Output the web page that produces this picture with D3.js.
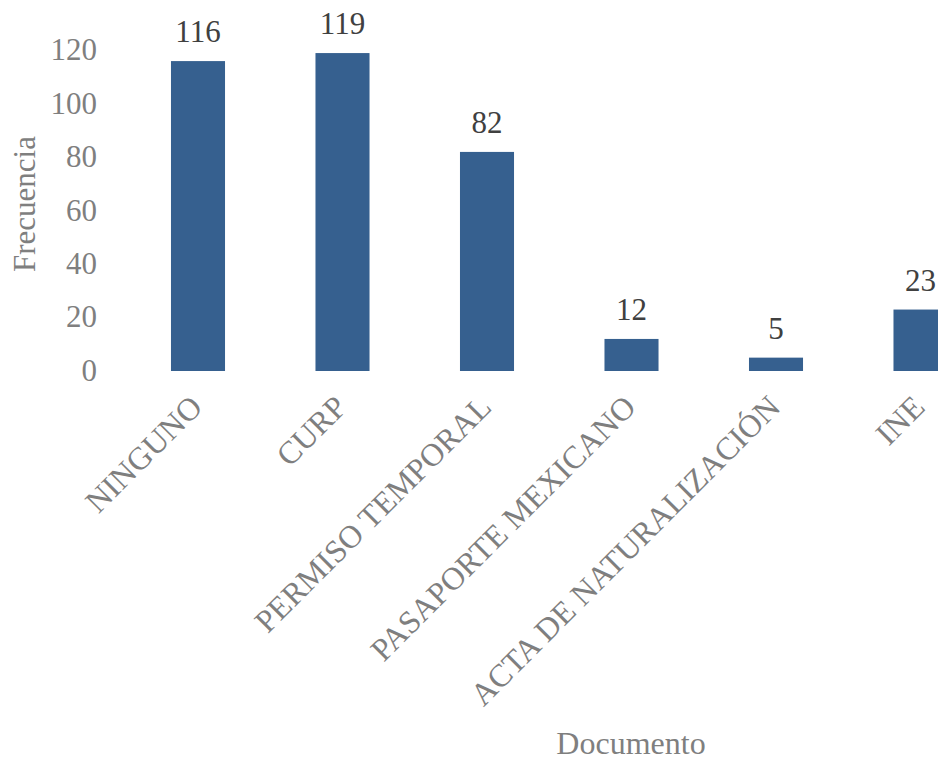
<!doctype html>
<html lang="es">
  <head>
    <meta charset="utf-8">
    <title>Documento</title>
    <style>
      body{margin:0;background:#fff;}
      svg{display:block;overflow:hidden;}
      text{font-family:"Liberation Serif","Times New Roman",serif;}
    </style>
  </head>
  <body>
    <div class="holder"></div>
    <script src="https://cdn.jsdelivr.net/npm/d3@7"></script>
    <script>
      // data
      var categories = ["NINGUNO", "CURP", "PERMISO TEMPORAL", "PASAPORTE MEXICANO", "ACTA DE NATURALIZACIÓN", "INE"];
      var values = [116, 119, 82, 12, 5, 23];
      var yTicks = [0, 20, 40, 60, 80, 100, 120];

      var width = 938, height = 761;

      var svg = d3.select(".holder")
          .append("svg")
          .attr("width", width)
          .attr("height", height);

      // the plot runs past the right edge, as in the original
      var x = d3.scaleBand()
          .domain(categories)
          .range([125.75, 992.75])
          .paddingInner(0.626)
          .paddingOuter(0.313);

      var y = d3.scaleLinear()
          .domain([0, 120])
          .range([371, 50.4]);

      var bars = categories.map(function(c, i){ return {cat: c, value: values[i]}; });

      // y axis, labels only
      var yAxis = svg.append("g")
          .attr("transform", "translate(97,0)")
          .call(d3.axisLeft(y).tickValues(yTicks).tickSize(0).tickPadding(0));
      yAxis.select(".domain").remove();
      yAxis.selectAll("text")
          .attr("dy", "0.3em")
          .style("font-size", "31px")
          .attr("fill", "#7f7f7f");

      // bars
      svg.selectAll(".bar")
          .data(bars)
          .enter().append("rect")
          .attr("class", "bar")
          .attr("x", function(d){ return x(d.cat); })
          .attr("width", x.bandwidth())
          .attr("y", function(d){ return y(d.value); })
          .attr("height", function(d){ return y(0) - y(d.value); })
          .attr("fill", "#36608f");

      // value labels
      svg.selectAll(".val")
          .data(bars)
          .enter().append("text")
          .attr("class", "val")
          .attr("x", function(d){ return x(d.cat) + x.bandwidth() / 2; })
          .attr("y", function(d){ return y(d.value) - 19; })
          .attr("text-anchor", "middle")
          .style("font-size", "31px")
          .attr("fill", "#404040")
          .text(function(d){ return d.value; });

      // x axis, rotated labels
      var xAxis = svg.append("g")
          .attr("transform", "translate(0,371)")
          .call(d3.axisBottom(x).tickSize(0).tickPadding(0));
      xAxis.select(".domain").remove();
      xAxis.selectAll("text")
          .attr("text-anchor", "end")
          .attr("dy", null)
          .attr("y", null)
          .attr("transform", "translate(6,38) rotate(-45)")
          .style("font-size", "32px")
          .attr("fill", "#7f7f7f");

      // axis titles
      svg.append("text")
          .attr("transform", "translate(35,204) rotate(-90)")
          .attr("text-anchor", "middle")
          .style("font-size", "31px")
          .attr("fill", "#7f7f7f")
          .text("Frecuencia");

      svg.append("text")
          .attr("x", 631)
          .attr("y", 754)
          .attr("text-anchor", "middle")
          .style("font-size", "32px")
          .attr("fill", "#7f7f7f")
          .text("Documento");
    </script>
  </body>
</html>
